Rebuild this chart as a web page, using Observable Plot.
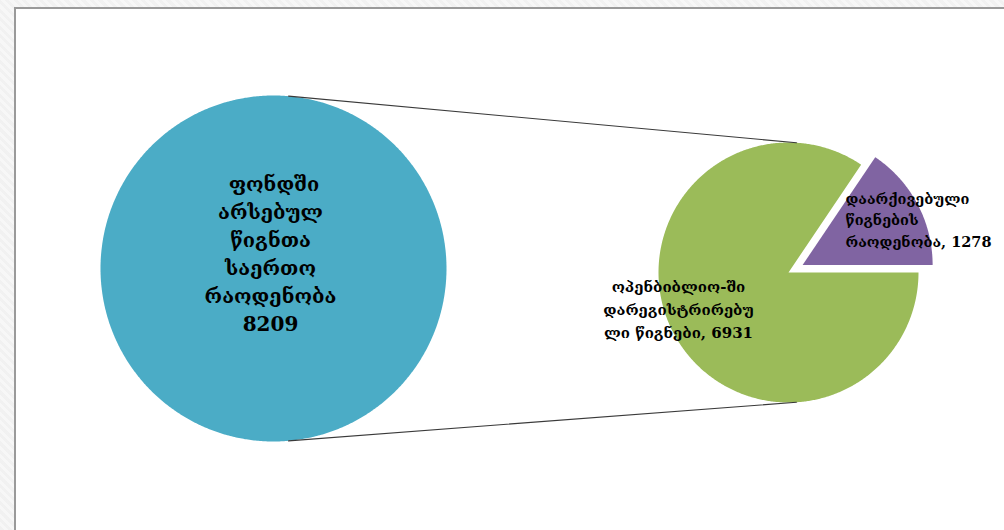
<!DOCTYPE html>
<html>
<head>
<meta charset="utf-8">
<script src="https://cdn.jsdelivr.net/npm/d3@7"></script>
<script src="https://cdn.jsdelivr.net/npm/@observablehq/plot@0.6"></script>
<style>
  html, body { margin: 0; padding: 0; width: 1004px; height: 530px; overflow: hidden; }
  body {
    background-color: #f7f7f7;
    background-image: repeating-linear-gradient(45deg, rgba(0,0,0,0.025) 0 3px, transparent 3px 6px);
    position: relative;
  }
  #panel {
    position: absolute; left: 14px; top: 7px; width: 990px; height: 523px;
    background: #ffffff; border-left: 2px solid #9a9a9a; border-top: 2px solid #9a9a9a;
    box-sizing: border-box;
  }
  #chart { position: absolute; left: 0; top: 0; }
</style>
</head>
<body>
<div id="panel"></div>
<div id="chart"></div>
<script>
// ---- data ----
const totalLabel = "ფონდში არსებულ წიგნთა საერთო რაოდენობა";
const totalValue = 8209;
const categories = ["ოპენბიბლიო-ში დარეგისტრირებული წიგნები", "დაარქივებული წიგნების რაოდენობა"];
const values = [6931, 1278];
const colors = ["#9BBB59", "#8064A2"];
const totalColor = "#4BACC6";
const totalLines = [" ფონდში", "არსებულ", "წიგნთა", "საერთო", "რაოდენობა", String(totalValue)];
const greenLines = ["ოპენბიბლიო-ში", "დარეგისტრირებუ", "ლი წიგნები, " + values[0]];
const purpleLines = ["დაარქივებული", "წიგნების", "რაოდენობა, " + values[1]];

// ---- layout ----
const W = 1004, H = 530;
const big = {cx: 273, cy: 268, r: 173};
const small = {cx: 788, cy: 272, r: 130};
const explode = 16;

const deg = Math.PI / 180;
function arcPoints(cx, cy, r, a0, a1, key, withCenter) {
  const pts = [];
  if (withCenter) pts.push({x: cx, y: cy, key});
  const n = Math.max(8, Math.ceil(Math.abs(a1 - a0) / (0.5 * deg)));
  for (let i = 0; i <= n; i++) {
    const a = a0 + (a1 - a0) * i / n;
    pts.push({x: cx + r * Math.sin(a), y: cy - r * Math.cos(a), key});
  }
  return pts;
}

// big circle: the whole fund
const bigPts = arcPoints(big.cx, big.cy, big.r, 0, 2 * Math.PI, "total", false);

// small pie: purple slice ends at 90deg (3 o'clock), green continues clockwise
const sum = d3.sum(values);
const purpleSpan = values[1] / sum * 2 * Math.PI;
const greenSpan = values[0] / sum * 2 * Math.PI;
const pEnd = Math.PI / 2, pStart = pEnd - purpleSpan;
const gStart = Math.PI / 2, gEnd = gStart + greenSpan;
const mid = (pStart + pEnd) / 2;
const ox = explode * Math.sin(mid), oy = -explode * Math.cos(mid);

const greenPts = arcPoints(small.cx, small.cy, small.r, gStart, gEnd, categories[0], true);
const purplePts = arcPoints(small.cx + ox, small.cy + oy, small.r, pStart, pEnd, categories[1], true);

// connector lines
const ca = 5 * deg, cb = 3.5 * deg;
const connectors = [
  {x: big.cx + big.r * Math.sin(ca), y: big.cy - big.r * Math.cos(ca), key: "top"},
  {x: small.cx + small.r * Math.sin(cb), y: small.cy - small.r * Math.cos(cb), key: "top"},
  {x: big.cx + big.r * Math.sin(Math.PI - ca), y: big.cy - big.r * Math.cos(Math.PI - ca), key: "bottom"},
  {x: small.cx + small.r * Math.sin(Math.PI - cb), y: small.cy - small.r * Math.cos(Math.PI - cb), key: "bottom"}
];

const font = "'DejaVu Serif', 'DejaVu Sans', serif";

const chart = Plot.plot({
  width: W, height: H, margin: 0,
  x: {type: "identity", axis: null}, y: {type: "identity", axis: null},
  style: {background: "transparent"},
  marks: [
    Plot.line(bigPts, {x: "x", y: "y", z: "key", fill: totalColor, stroke: "none", curve: "linear-closed"}),
    Plot.line(greenPts, {x: "x", y: "y", z: "key", fill: colors[0], stroke: "none", curve: "linear-closed"}),
    Plot.line(purplePts, {x: "x", y: "y", z: "key", fill: colors[1], stroke: "none", curve: "linear-closed"}),
    Plot.line(connectors, {x: "x", y: "y", z: "key", stroke: "#3a3a3a", strokeWidth: 1.1}),
    Plot.text([totalLines.join("\n")], {x: 270, y: 252, text: d => d, fontSize: 20, fontWeight: "bold",
      lineHeight: 1.4, fontFamily: font, fill: "#000", lineAnchor: "middle"}),
    Plot.text([greenLines.join("\n")], {x: 678, y: 307, text: d => d, fontSize: 15, fontWeight: "bold",
      lineHeight: 1.55, fontFamily: font, fill: "#000", lineAnchor: "middle"}),
    Plot.text([purpleLines.join("\n")], {x: 845, y: 218, text: d => d, fontSize: 14.5, fontWeight: "bold",
      lineHeight: 1.5, fontFamily: font, fill: "#000", lineAnchor: "middle", textAnchor: "start"})
  ]
});
document.getElementById("chart").appendChild(chart);
</script>
</body>
</html>
